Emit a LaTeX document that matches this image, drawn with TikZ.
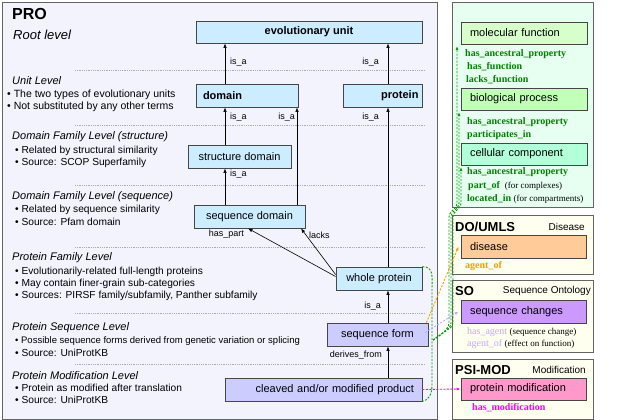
\documentclass[tikz,border=0pt]{standalone}
\usepackage{fontspec}
\setmainfont{Liberation Sans}
\newfontfamily\relfont{Liberation Serif}
\usetikzlibrary{arrows.meta}
\definecolor{probg}{RGB}{242,243,252}
\definecolor{frame}{RGB}{100,100,100}
\definecolor{boxline}{RGB}{70,70,70}
\definecolor{lblue}{RGB}{204,236,255}
\definecolor{lpurp}{RGB}{204,204,255}
\definecolor{gobg}{RGB}{230,255,240}
\definecolor{mfc}{RGB}{214,255,204}
\definecolor{bpc}{RGB}{194,255,184}
\definecolor{ccc}{RGB}{179,255,217}
\definecolor{godark}{RGB}{0,128,0}
\definecolor{gline}{RGB}{0,160,0}
\definecolor{creambg}{RGB}{255,255,240}
\definecolor{disc}{RGB}{255,204,153}
\definecolor{orng}{RGB}{255,153,0}
\definecolor{soc}{RGB}{204,153,255}
\definecolor{solab}{RGB}{196,166,255}
\definecolor{pmodc}{RGB}{255,153,204}
\definecolor{mag}{RGB}{255,0,255}
\newcommand\mynote{\fontsize{9}{10}\selectfont\relfont\mdseries\color{black}}
\begin{document}
\begin{tikzpicture}[x=1pt,y=-1pt,
  panel/.style={draw=frame, line width=0.8pt, inner sep=0pt},
  box/.style={draw=boxline, line width=0.8pt, inner sep=0pt, minimum height=23pt, font=\fontsize{11}{13}\selectfont},
  lvl/.style={anchor=west, inner sep=0pt, font=\fontsize{11}{13}\selectfont\itshape},
  bul/.style={anchor=west, inner sep=0pt, font=\fontsize{10.2}{12}\selectfont},
  rel/.style={inner sep=0pt, font=\fontsize{9}{10}\selectfont},
  sepline/.style={draw=gray!65, dash pattern=on 1pt off 0.8pt, line width=0.5pt},
  arr/.style={-{Latex[length=4.5pt,width=3.5pt]}, line width=0.6pt},
  golab/.style={anchor=west, inner sep=0pt, text=godark, font=\fontsize{10}{12}\selectfont\relfont\bfseries},
  ttl/.style={anchor=west, inner sep=0pt, font=\fontsize{13}{15}\selectfont\bfseries},
  sub/.style={anchor=east, inner sep=0pt, font=\fontsize{10}{12}\selectfont},
  dsh/.style={dash pattern=on 2pt off 1.5pt, line width=0.9pt, -{Latex[length=4pt,width=3pt]}}
]
\useasboundingbox (0,0) rectangle (621,420);
\fill[white] (0,0) rectangle (621,420);

% ---------- PRO panel ----------
\node[panel, fill=probg, minimum width=435pt, minimum height=417pt] (pro) at (219.5,210.5) {};
\node[anchor=west, inner sep=0pt, font=\fontsize{16}{18}\selectfont\bfseries] (protitle) at (12,14) {PRO};
\node[anchor=west, inner sep=0pt, font=\fontsize{13}{15}\selectfont\itshape] (root) at (13,35) {Root level};

% separators
\foreach \yy/\nm in {70/s1,125/s2,185/s3,247/s4,313/s5,364/s6}{
  \coordinate (\nm a) at (75,\yy); \coordinate (\nm b) at (425,\yy);
  \draw[sepline] (\nm a) -- (\nm b);
}

% level texts
\node[lvl] (h1) at (12,81) {Unit Level};
\node[bul, font=\fontsize{10.5}{12}\selectfont] (b11) at (7,95) {• The two types of evolutionary units};
\node[bul, font=\fontsize{10.5}{12}\selectfont] (b12) at (7,107) {• Not substituted by any other terms};
\node[lvl] (h2) at (12,137) {Domain Family Level (structure)};
\node[bul] (b21) at (15,151) {• Related by structural similarity};
\node[bul] (b22) at (15,163) {• Source: SCOP Superfamily};
\node[lvl] (h3) at (12,197) {Domain Family Level (sequence)};
\node[bul] (b31) at (15,210) {• Related by sequence similarity};
\node[bul] (b32) at (15,222) {• Source: Pfam domain};
\node[lvl] (h4) at (12,258) {Protein Family Level};
\node[bul] (b41) at (15,272) {• Evolutionarily-related full-length proteins};
\node[bul] (b42) at (15,284) {• May contain finer-grain sub-categories};
\node[bul] (b43) at (15,296) {• Sources: PIRSF family/subfamily, Panther subfamily};
\node[lvl] (h5) at (12,328) {Protein Sequence Level};
\node[bul, font=\fontsize{9.5}{12}\selectfont] (b51) at (15,341) {• Possible sequence forms derived from genetic variation or splicing};
\node[bul] (b52) at (15,353) {• Source: UniProtKB};
\node[lvl] (h6) at (12,376) {Protein Modification Level};
\node[bul] (b61) at (15,388) {• Protein as modified after translation};
\node[bul] (b62) at (15,400) {• Source: UniProtKB};

% term boxes
\node[box, fill=lblue, minimum width=226pt, minimum height=22pt, font=\fontsize{11}{13}\selectfont\bfseries] (evo) at (309,32) {evolutionary unit};
\node[box, fill=lblue, minimum width=102pt, text width=88pt, align=left, font=\fontsize{11}{13}\selectfont\bfseries] (domain) at (247,95.5) {domain};
\node[box, fill=lblue, minimum width=79pt, text width=72pt, align=right, font=\fontsize{11}{13}\selectfont\bfseries] (protein) at (382.5,95.5) {protein};
\node[box, fill=lblue, minimum width=103pt] (struct) at (239.5,156.5) {structure domain};
\node[box, fill=lblue, minimum width=111pt] (seqdom) at (249.5,216.5) {sequence domain};
\node[box, fill=lblue, minimum width=86pt] (whole) at (379,278.5) {whole protein};
\node[box, fill=lpurp, minimum width=101pt] (seqform) at (377.5,334.5) {sequence form};
\node[box, fill=lpurp, minimum width=197pt, text width=181pt, align=right] (cleaved) at (323.5,389.5) {cleaved and/or modified product};

% connectors
\coordinate (xa) at (225,0);
\coordinate (xb) at (297,0);
\coordinate (xc) at (388,0);
\coordinate (xd) at (248,0);
\coordinate (xe) at (301,0);
\draw[arr] (domain.north -| xa) -- (evo.south -| xa);
\draw[arr] (protein.north -| xc) -- (evo.south -| xc);
\draw[arr] (struct.north -| xa) -- (domain.south -| xa);
\draw[arr] (seqdom.north -| xb) -- (domain.south -| xb);
\draw[arr] (whole.north -| xc) -- (protein.south -| xc);
\draw[arr] (seqdom.north -| xa) -- (struct.south -| xa);
\draw[arr] ([yshift=2pt]whole.west) -- (seqdom.south -| xd);
\draw[arr] ([yshift=4pt]whole.west) -- (seqdom.south -| xe);
\draw[arr] (seqform.north -| xc) -- (whole.south -| xc);
\draw[arr] (cleaved.north -| xc) -- (seqform.south -| xc);

\node[rel, anchor=west] (l1) at (230,62) {is\_a};
\node[rel, anchor=east] (l2) at (379,62) {is\_a};
\node[rel, anchor=west] (l3) at (230,117) {is\_a};
\node[rel, anchor=east] (l4) at (295,117) {is\_a};
\node[rel, anchor=east] (l5) at (379,117) {is\_a};
\node[rel, anchor=west] (l6) at (230,174) {is\_a};
\node[rel, anchor=east] (l7) at (244,234) {has\_part};
\node[rel, anchor=west] (l8) at (309,235) {lacks};
\node[rel, anchor=east] (l9) at (381,306) {is\_a};
\node[rel, anchor=east] (l10) at (382,355) {derives\_from};

% ---------- GO panel ----------
\node[panel, fill=gobg, minimum width=141pt, minimum height=205pt] (go) at (522.5,105) {};
\node[box, fill=mfc, minimum width=126pt, minimum height=22pt, text width=108pt, align=left] (mf) at (524,33) {molecular function};
\node[box, fill=bpc, minimum width=126pt, minimum height=22pt, text width=108pt, align=left] (bp) at (524,99) {biological process};
\node[box, fill=ccc, minimum width=126pt, minimum height=22pt, text width=108pt, align=left] (cc) at (524,154) {cellular component};
\node[golab] (g1) at (465,54) {has\_ancestral\_property};
\node[golab] (g2) at (467,67) {has\_function};
\node[golab] (g3) at (466,80) {lacks\_function};
\node[golab] (g4) at (467,122) {has\_ancestral\_property};
\node[golab] (g5) at (467,135) {participates\_in};
\node[golab] (g6) at (467,172) {has\_ancestral\_property};
\node[golab] (g7) at (468,186) {part\_of\hspace{5pt}{\mynote (for complexes)}};
\node[golab] (g8) at (467,199) {located\_in\hspace{2.5pt}{\mynote (for compartments)}};

% ---------- DO/UMLS panel ----------
\node[panel, fill=creambg, minimum width=141pt, minimum height=59pt] (do) at (522.5,244.5) {};
\node[ttl] (dot) at (455,227) {DO/UMLS};
\node[sub] (dos) at (585,227) {Disease};
\node[box, fill=disc, minimum width=125pt, text width=107pt, align=left] (disease) at (523.5,246.5) {disease};
\node[golab, text=orng] (d1) at (465,266) {agent\_of};

% ---------- SO panel ----------
\node[panel, fill=creambg, minimum width=141pt, minimum height=72pt] (so) at (522.5,316) {};
\node[ttl] (sot) at (455,291) {SO};
\node[sub] (sos) at (591,291) {Sequence Ontology};
\node[box, fill=soc, minimum width=125pt, text width=107pt, align=left] (seqch) at (523.5,311.5) {sequence changes};
\node[golab, text=solab, font=\fontsize{10}{12}\selectfont\relfont\mdseries] (so1) at (467,332) {has\_agent\hspace{2.5pt}{\mynote (sequence change)}};
\node[golab, text=solab, font=\fontsize{10}{12}\selectfont\relfont\mdseries] (so2) at (467,344) {agent\_of\hspace{2.5pt}{\mynote (effect on function)}};

% ---------- PSI-MOD panel ----------
\node[panel, fill=creambg, minimum width=141pt, minimum height=60pt] (psi) at (522.5,389) {};
\node[ttl] (psit) at (455,370) {PSI-MOD};
\node[sub] (psis) at (586,370) {Modification};
\node[box, fill=pmodc, minimum width=125pt, minimum height=22pt, text width=107pt, align=left] (pmod) at (523.5,389) {protein modification};
\node[golab, text=mag] (p1) at (472,408) {has\_modification};

% ---------- cross connectors ----------
\coordinate (gb) at (433,340);
\coordinate (t1) at (457,46);
\coordinate (t2) at (459,112);
\coordinate (t3) at (461,167);
\draw[gline, dash pattern=on 2pt off 1.5pt, line width=0.9pt]
  (whole.north east) .. controls (434,267) and (432,276) .. (432,290) -- (432,384)
  .. controls (432,396) and (428,400) .. (cleaved.south east);
\draw[gline, dsh, rounded corners=3pt] (gb) -- (443,333) -- (449,326) -- (449,214) -- (457,206) -- (t1);
\draw[gline, dsh, rounded corners=3pt] (gb) -- (443,333) -- (451,326) -- (451,214) -- (459,206) -- (t2);
\draw[gline, dsh, rounded corners=3pt] (gb) -- (443,333) -- (453,326) -- (453,214) -- (461,206) -- (t3);
\draw[orng, dsh] ([xshift=-2pt]seqform.north east) -- ([xshift=-2pt]disease.west);
\draw[solab, dsh] ([xshift=-3pt,yshift=2pt]seqform.east) -- ([xshift=-2pt]seqch.west);
\draw[mag, dsh] (cleaved.east) -- (pmod.west);
\end{tikzpicture}
\end{document}
